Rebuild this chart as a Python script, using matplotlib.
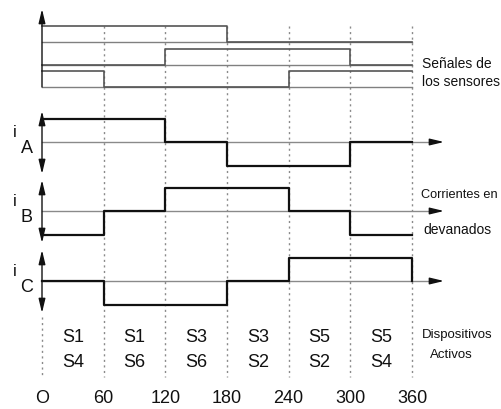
import matplotlib
matplotlib.use("Agg")
import matplotlib.pyplot as plt

# Ángulos eléctricos de conmutación (grados)
angulos = [0, 60, 120, 180, 240, 300, 360]
etiquetas_x = ['O', '60', '120', '180', '240', '300', '360']

# Señales de los sensores Hall (1 = alto, 0 = bajo)
sensor_a = [1, 1, 1, 0, 0, 0]
sensor_b = [0, 0, 1, 1, 1, 0]
sensor_c = [1, 0, 0, 0, 1, 1]

# Corrientes en devanados (+1, 0, -1)
corriente_a = [1, 1, 0, -1, -1, 0]
corriente_b = [-1, 0, 1, 1, 0, -1]
corriente_c = [0, -1, -1, 0, 1, 1]

# Dispositivos activos en cada sector
disp_sup = ['S1', 'S1', 'S3', 'S3', 'S5', 'S5']
disp_inf = ['S4', 'S6', 'S6', 'S2', 'S2', 'S4']

plt.rcParams['font.family'] = ['Liberation Sans', 'DejaVu Sans']

fig = plt.figure(figsize=(5.01, 4.10), dpi=100)
ax = fig.add_axes([0, 0, 1, 1])
ax.axis('off')

# escala: grados en x, pixeles en y
k = (412 - 42) / 360.0
def px(x):
    return (x - 42) / k

ax.set_xlim(px(0), px(501))
ax.set_ylim(410, 0)

negro = '#111111'
gris = '#8a8a8a'

def flecha(x0, y0, x1, y1, estilo='-|>'):
    ax.annotate('', xy=(x1, y1), xytext=(x0, y0),
                arrowprops=dict(arrowstyle=estilo + ',head_length=0.42,head_width=0.1',
                                color=negro, lw=1.0, shrinkA=0, shrinkB=0,
                                mutation_scale=20))

# lineas verticales punteadas
for a in angulos[1:]:
    ax.plot([a, a], [27, 378], color=gris, lw=1.0, ls=(0, (1.5, 2.5)), zorder=1)
ax.plot([0, 0], [318, 378], color=gris, lw=1.0, ls=(0, (1.5, 2.5)), zorder=1)

# sensores
bases_sensor = [43, 66, 88]
alto = 16
for base, sen in zip(bases_sensor, [sensor_a, sensor_b, sensor_c]):
    ax.plot([0, 360], [base, base], color='#808080', lw=1.0, zorder=2)
    y = [base - alto * v for v in sen]
    ax.step(angulos, y + [y[-1]], where='post', color='#555555', lw=1.2, zorder=3)
flecha(0, 88, 0, 10)

# corrientes
ceros = [143, 212, 282]
amp = 23.5
corrientes = [corriente_a, corriente_b, corriente_c]
for n, (cero, cor) in enumerate(zip(ceros, corrientes)):
    ax.plot([0, px(432)], [cero, cero], color=gris, lw=1.0, zorder=2)
    flecha(px(431), cero, px(444), cero)
    flecha(0, cero + 32, 0, cero - 31, '<|-|>')
    y = [cero - amp * v for v in cor]
    xs = angulos + ([360] if n == 2 else [])
    ys = y + [y[-1]] + ([cero] if n == 2 else [])
    ax.step(xs, ys, where='post', color=negro, lw=1.6, zorder=4)

# etiquetas i_A, i_B, i_C
for cero, letra in zip(ceros, ['A', 'B', 'C']):
    ax.text(px(15), cero - 10, 'i', fontsize=12, ha='center', va='center', color=negro)
    ax.text(px(26.5), cero + 6, letra, fontsize=13, ha='center', va='center', color=negro)

# dispositivos activos
for i in range(6):
    xc = (angulos[i] + angulos[i + 1]) / 2
    ax.text(xc, 338, disp_sup[i], fontsize=13, ha='center', va='center', color=negro)
    ax.text(xc, 363, disp_inf[i], fontsize=13, ha='center', va='center', color=negro)

# eje de angulos
for a, t in zip(angulos, etiquetas_x):
    ax.text(a, 399, t, fontsize=13, ha='center', va='center', color=negro)

# textos laterales
ax.text(px(422), 64, 'Señales de', fontsize=10, ha='left', va='center', color=negro)
ax.text(px(422), 82, 'los sensores', fontsize=10, ha='left', va='center', color=negro)
ax.text(px(421), 195, 'Corrientes en', fontsize=9.2, ha='left', va='center', color=negro)
ax.text(px(423), 230, 'devanados', fontsize=10, ha='left', va='center', color=negro)
ax.text(px(422), 335, 'Dispositivos', fontsize=9.5, ha='left', va='center', color=negro)
ax.text(px(430), 355, 'Activos', fontsize=9.5, ha='left', va='center', color=negro)

fig.savefig('out.png', dpi=100)
